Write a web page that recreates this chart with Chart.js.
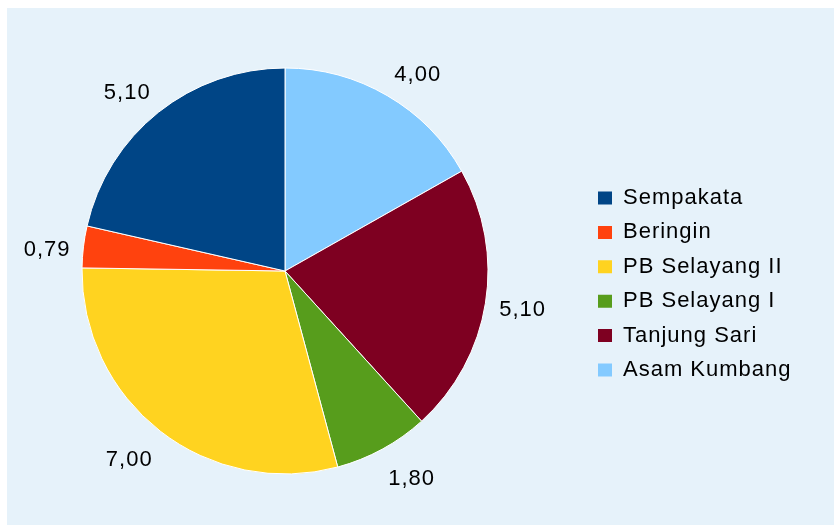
<!DOCTYPE html>
<html><head><meta charset="utf-8">
<script src="https://cdn.jsdelivr.net/npm/chart.js@4.4.1/dist/chart.umd.min.js"></script>
<style>
html,body{margin:0;padding:0;background:#fff;width:834px;height:525px;overflow:hidden;position:relative}
#bg{position:absolute;left:7px;top:8px;width:827px;height:517px;background:#e6f2fa}
#c{position:absolute;left:-20px;top:0}
</style></head><body>
<div id="bg"></div>
<canvas id="c" width="854" height="525"></canvas>
<script>
// ---- data ----
const categories = ['Asam Kumbang', 'Tanjung Sari', 'PB Selayang I', 'PB Selayang II', 'Beringin', 'Sempakata'];
const values = [4.00, 5.10, 1.80, 7.00, 0.79, 5.10];
const sliceColors = ['#83caff', '#7e0021', '#579d1c', '#ffd320', '#ff420e', '#004586'];

// ---- styling / layout ----
const FONT = '"Liberation Sans", Arial, sans-serif';
const FS = 22, LS = '1px';
const PIE_R = 203;
const LEG_PAD = 12.4, BOX_W = 14, BOX_H = 13;
const LEG_BOX_X = 618;   // canvas coords (canvas is shifted 20px left)
const CX = 305;
const CW = 854;

const mctx = document.createElement('canvas').getContext('2d');
mctx.font = FS + 'px ' + FONT;
mctx.letterSpacing = LS;
const maxW = Math.max(...categories.map(t => mctx.measureText(t).width));
const legLeft = LEG_BOX_X - LEG_PAD;
const legendWidth = LEG_PAD + BOX_W + FS / 2 + maxW + 10;
const padRight = Math.max(0, CW - legLeft - legendWidth);
const padLeft = 2 * CX - legLeft;

const spacingPlugin = {
  id: 'spacing',
  beforeUpdate(chart) { chart.ctx.letterSpacing = LS; },
  beforeLayout(chart) { chart.ctx.letterSpacing = LS; },
  beforeDraw(chart) { chart.ctx.letterSpacing = LS; }
};

const valueLabels = {
  id: 'valueLabels',
  afterDatasetsDraw(chart) {
    const ctx = chart.ctx;
    const meta = chart.getDatasetMeta(0);
    ctx.save();
    ctx.font = FS + 'px ' + FONT;
    ctx.letterSpacing = LS;
    ctx.fillStyle = '#000';
    ctx.textAlign = 'center';
    ctx.textBaseline = 'alphabetic';
    meta.data.forEach((arc, i) => {
      const p = arc.getProps(['x', 'y', 'startAngle', 'endAngle', 'outerRadius'], true);
      const a = (p.startAngle + p.endAngle) / 2;
      const s = Math.cos(a), c = -Math.sin(a);
      const d = p.outerRadius + 14;
      const px = p.x + d * s, py = p.y - d * c;
      const txt = values[i].toFixed(2).replace('.', ',');
      const w = ctx.measureText(txt).width - 1;
      const sx = Math.max(-1, Math.min(1, 2 * s));
      const f = Math.max(0, Math.min(1, (Math.abs(c) - 0.2) * 2.5));
      const dy = c > 0 ? 2.5 - 12.5 * f : 2.5 + 13 * f;
      ctx.fillText(txt, px + w / 2 * sx + 0.5, py + dy + 0.358 * FS);
    });
    ctx.restore();
  }
};

new Chart(document.getElementById('c'), {
  type: 'pie',
  data: {
    labels: categories,
    datasets: [{
      data: values,
      backgroundColor: sliceColors,
      borderColor: '#ffffff',
      borderWidth: 1,
      radius: PIE_R
    }]
  },
  options: {
    responsive: false,
    animation: false,
    devicePixelRatio: 1,
    layout: { padding: { left: padLeft, right: padRight, top: 18, bottom: 1 } },
    plugins: {
      tooltip: { enabled: false },
      legend: {
        position: 'right',
        align: 'center',
        reverse: true,
        title: { display: true, text: ' ', font: { size: 10 }, padding: { top: 7, bottom: 7 } },
        labels: {
          font: { family: FONT, size: FS },
          color: '#000',
          boxWidth: BOX_W,
          boxHeight: BOX_H,
          padding: LEG_PAD,
          generateLabels(chart) {
            return Chart.overrides.doughnut.plugins.legend.labels.generateLabels(chart)
              .map(l => Object.assign({}, l, { lineWidth: 0 }));
          }
        }
      }
    }
  },
  plugins: [spacingPlugin, valueLabels]
});
</script>
</body></html>
